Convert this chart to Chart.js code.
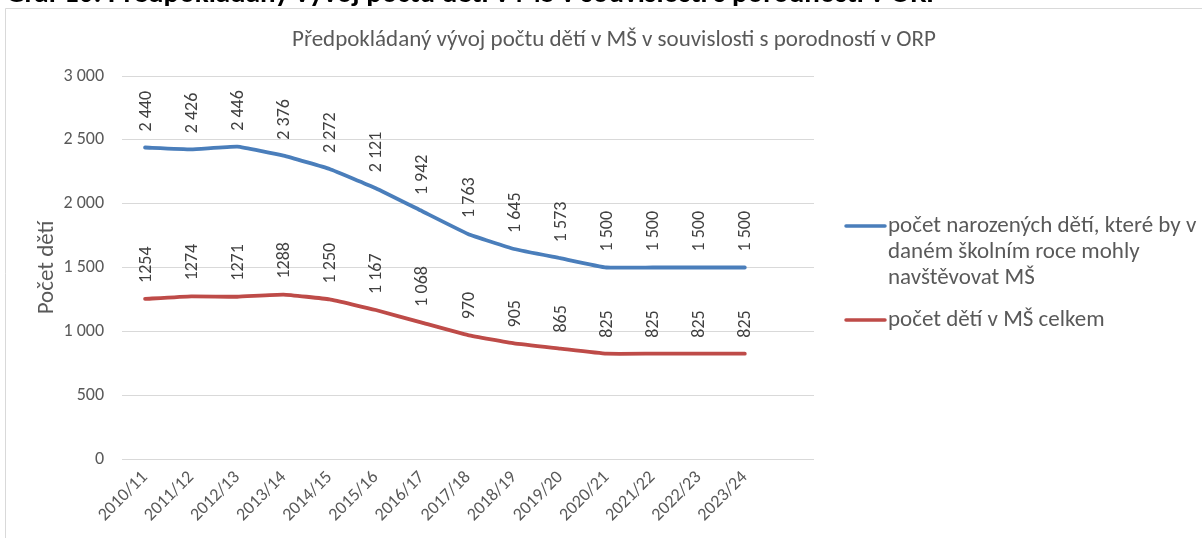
<!DOCTYPE html>
<html>
<head>
<meta charset="utf-8">
<script src="https://cdn.jsdelivr.net/npm/chart.js@4.4.1/dist/chart.umd.min.js"></script>
<style>
html,body{margin:0;padding:0;background:#fff;overflow:hidden;}
canvas{display:block;}
</style>
</head>
<body>
<canvas id="c" width="1202" height="538"></canvas>
<script>
// ---- data ----
const categories = ['2010/11','2011/12','2012/13','2013/14','2014/15','2015/16','2016/17','2017/18','2018/19','2019/20','2020/21','2021/22','2022/23','2023/24',''];
const bornValues = [2440,2426,2446,2376,2272,2121,1942,1763,1645,1573,1500,1500,1500,1500,null];
const msValues   = [1254,1274,1271,1288,1250,1167,1068,970,905,865,825,825,825,825,null];
const bornLabels = ['2 440','2 426','2 446','2 376','2 272','2 121','1 942','1 763','1 645','1 573','1 500','1 500','1 500','1 500'];
const msLabels   = ['1254','1274','1271','1288','1 250','1 167','1 068','970','905','865','825','825','825','825'];
const seriesNames = [['počet narozených dětí, které by v','daném školním roce mohly','navštěvovat MŠ'],['počet dětí v MŠ celkem']];
const yTicks = [0,500,1000,1500,2000,2500,3000];
const chartTitle = 'Předpokládaný vývoj počtu dětí v MŠ v souvislosti s porodností v ORP';
const pageHeading = 'Graf 10: Předpokládaný vývoj počtu dětí v MŠ v souvislosti s porodností v ORP';
const yTitle = 'Počet dětí';

const FONT = "Carlito, Lato, 'Open Sans', sans-serif";
const BLUE = '#4a7ebb';
const RED = '#be4b48';
const TXT = '#595959';

function fmtThousands(v){ return String(v).replace(/\B(?=(\d{3})+(?!\d))/g, ' '); }

const decor = {
  id: 'decor',
  beforeDraw(chart){
    const ctx = chart.ctx;
    ctx.save();
    ctx.fillStyle = '#fff';
    ctx.fillRect(0,0,chart.width,chart.height);
    // clipped page heading
    ctx.fillStyle = '#000';
    ctx.font = "bold 29px " + FONT;
    ctx.textBaseline = 'alphabetic';
    ctx.textAlign = 'left';
    ctx.fillText(pageHeading, 6, 2);
    ctx.fillStyle = '#fff';
    ctx.fillRect(0, 8, chart.width, chart.height);
    ctx.strokeStyle = '#d9d9d9';
    ctx.lineWidth = 1;
    ctx.beginPath();
    ctx.moveTo(5.5, chart.height+5);
    ctx.lineTo(5.5, 8.5);
    ctx.lineTo(chart.width+5, 8.5);
    ctx.stroke();
    // chart title
    ctx.fillStyle = TXT;
    ctx.font = "23px " + FONT;
    ctx.textAlign = 'center';
    ctx.textBaseline = 'middle';
    ctx.fillText(chartTitle, 614, 40);
    ctx.restore();
  },
  afterDatasetsDraw(chart){
    const ctx = chart.ctx;
    ctx.save();
    ctx.fillStyle = '#404040';
    ctx.font = "18px " + FONT;
    ctx.textAlign = 'left';
    ctx.textBaseline = 'middle';
    const lbls = [bornLabels, msLabels];
    chart.data.datasets.forEach((ds, di) => {
      const meta = chart.getDatasetMeta(di);
      meta.data.forEach((pt, i) => {
        if (ds.data[i] == null) return;
        ctx.save();
        ctx.translate(pt.x, pt.y - 16);
        ctx.rotate(-Math.PI/2);
        ctx.fillText(lbls[di][i], 0, 1);
        ctx.restore();
      });
    });
    // legend
    ctx.font = "23px " + FONT;
    ctx.fillStyle = TXT;
    const colors = [BLUE, RED];
    const starts = [226, 320];
    seriesNames.forEach((lines, k) => {
      const y = starts[k];
      ctx.strokeStyle = colors[k];
      ctx.lineWidth = 3.5;
      ctx.lineCap = 'round';
      ctx.beginPath();
      ctx.moveTo(846, y);
      ctx.lineTo(885, y);
      ctx.stroke();
      lines.forEach((ln, j) => {
        ctx.fillText(ln, 888, y + j*26);
      });
    });
    ctx.restore();
  }
};

new Chart(document.getElementById('c'), {
  type: 'line',
  data: {
    labels: categories,
    datasets: [
      { label: seriesNames[0].join(' '), data: bornValues, borderColor: BLUE, backgroundColor: BLUE, borderWidth: 3.8, pointRadius: 0, tension: 0.1, borderCapStyle: 'round', borderJoinStyle: 'round' },
      { label: seriesNames[1].join(' '), data: msValues, borderColor: RED, backgroundColor: RED, borderWidth: 3.8, pointRadius: 0, tension: 0.1, borderCapStyle: 'round', borderJoinStyle: 'round' }
    ]
  },
  options: {
    responsive: false,
    animation: false,
    devicePixelRatio: 1,
    layout: { padding: { left: 29, right: 388, top: 76, bottom: 0 } },
    plugins: { legend: { display: false }, title: { display: false }, tooltip: { enabled: false } },
    scales: {
      x: {
        offset: true,
        grid: { display: false, drawTicks: false },
        border: { display: false },
        ticks: { color: TXT, font: { family: FONT, size: 18 }, maxRotation: 45, minRotation: 45, padding: 8, autoSkip: false },
        afterFit(s){ s.height = 79; }
      },
      y: {
        min: 0, max: 3000,
        afterBuildTicks(s){ s.ticks = yTicks.map(v => ({ value: v })); },
        grid: { color: '#d9d9d9', lineWidth: 1, drawTicks: false },
        border: { display: false },
        ticks: { color: TXT, font: { family: FONT, size: 18 }, padding: 18, callback: v => fmtThousands(v) },
        title: { display: true, text: yTitle, color: TXT, font: { family: FONT, size: 23 } },
        afterFit(s){ s.width = 93; }
      }
    }
  },
  plugins: [decor]
});
</script>
</body>
</html>
